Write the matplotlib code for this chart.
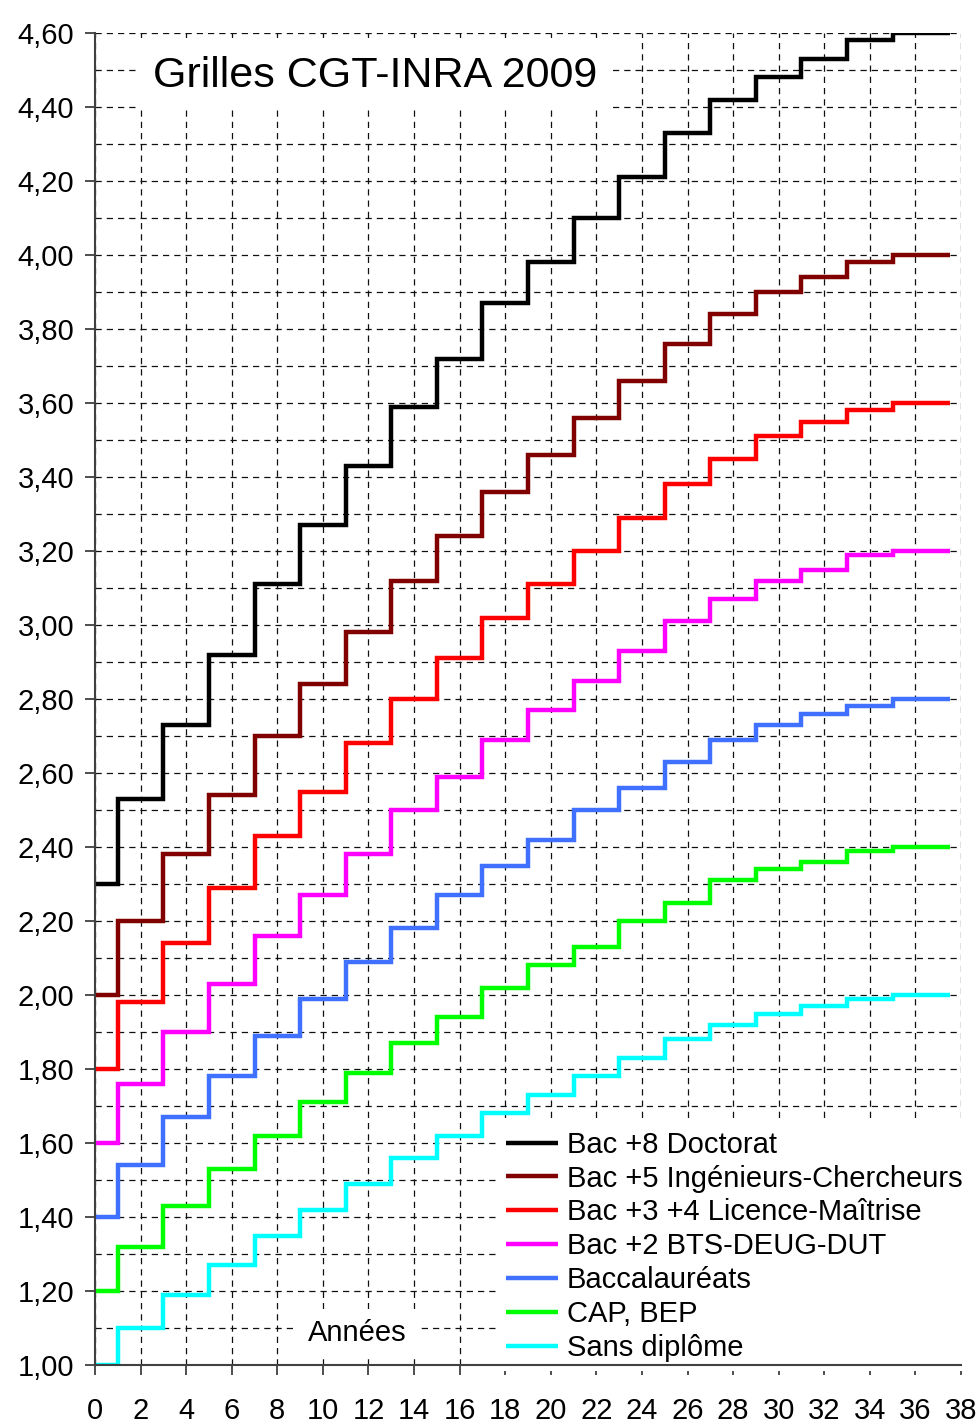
import matplotlib
matplotlib.use("Agg")
import matplotlib.pyplot as plt
from matplotlib.ticker import MultipleLocator, FuncFormatter

# step positions (years) and last x of the curves
annees = [0, 1, 3, 5, 7, 9, 11, 13, 15, 17, 19, 21, 23, 25, 27, 29, 31, 33, 35]
fin = 37.5

doctorat = [2.30, 2.53, 2.73, 2.92, 3.11, 3.27, 3.43, 3.59, 3.72, 3.87,
            3.98, 4.10, 4.21, 4.33, 4.42, 4.48, 4.53, 4.58, 4.60]
ingenieurs = [2.00, 2.20, 2.38, 2.54, 2.70, 2.84, 2.98, 3.12, 3.24, 3.36,
              3.46, 3.56, 3.66, 3.76, 3.84, 3.90, 3.94, 3.98, 4.00]
licence = [1.80, 1.98, 2.14, 2.29, 2.43, 2.55, 2.68, 2.80, 2.91, 3.02,
           3.11, 3.20, 3.29, 3.38, 3.45, 3.51, 3.55, 3.58, 3.60]
bts = [1.60, 1.76, 1.90, 2.03, 2.16, 2.27, 2.38, 2.50, 2.59, 2.69,
       2.77, 2.85, 2.93, 3.01, 3.07, 3.12, 3.15, 3.19, 3.20]
bac = [1.40, 1.54, 1.67, 1.78, 1.89, 1.99, 2.09, 2.18, 2.27, 2.35,
       2.42, 2.50, 2.56, 2.63, 2.69, 2.73, 2.76, 2.78, 2.80]
cap = [1.20, 1.32, 1.43, 1.53, 1.62, 1.71, 1.79, 1.87, 1.94, 2.02,
       2.08, 2.13, 2.20, 2.25, 2.31, 2.34, 2.36, 2.39, 2.40]
sans = [1.00, 1.10, 1.19, 1.27, 1.35, 1.42, 1.49, 1.56, 1.62, 1.68,
        1.73, 1.78, 1.83, 1.88, 1.92, 1.95, 1.97, 1.99, 2.00]

series = [doctorat, ingenieurs, licence, bts, bac, cap, sans]
labels = ["Bac +8 Doctorat", "Bac +5 Ingénieurs-Chercheurs",
          "Bac +3 +4 Licence-Maîtrise", "Bac +2 BTS-DEUG-DUT",
          "Baccalauréats", "CAP, BEP", "Sans diplôme"]
colors = ["#000000", "#800000", "#ff0000", "#ff00ff", "#4070ff", "#00ff00", "#00ffff"]

plt.rcParams['font.family'] = ['Liberation Sans', 'DejaVu Sans']

fig = plt.figure(figsize=(9.77, 14.24), dpi=100)
ax = fig.add_axes([95 / 977, 1 - 1365 / 1424, 866 / 977, 1332 / 1424])

xs = annees + [fin]
for vals, lab, col in zip(series, labels, colors):
    ax.step(xs, vals + [vals[-1]], where="post", color=col, lw=3.2, label=lab,
            solid_joinstyle="miter", solid_capstyle="butt", zorder=3)

ax.set_xlim(0, 38)
ax.set_ylim(1.0, 4.6)
ax.xaxis.set_major_locator(MultipleLocator(2))
ax.yaxis.set_major_locator(MultipleLocator(0.2))
ax.yaxis.set_minor_locator(MultipleLocator(0.1))
ax.yaxis.set_major_formatter(FuncFormatter(lambda v, p: f"{v:.2f}".replace(".", ",")))

ax.grid(True, which="major", axis="x", color="#101010", lw=0.9, dashes=(5, 4))
ax.grid(True, which="both", axis="y", color="#101010", lw=0.9, dashes=(5, 4))
ax.set_axisbelow(True)

for s in ["top", "right"]:
    ax.spines[s].set_visible(False)
for s in ["left", "bottom"]:
    ax.spines[s].set_color("#404040")
    ax.spines[s].set_linewidth(1.5)
    ax.spines[s].set_zorder(8)

ax.tick_params(which="major", length=7, width=1.3, color="#404040", labelsize=21)
ax.tick_params(axis="y", which="major", pad=8)
ax.tick_params(axis="x", which="major", pad=16)
ax.tick_params(which="minor", length=0)

ax.text(12.3, 4.484, "Grilles CGT-INRA 2009", fontsize=31, ha="center", va="center",
        bbox=dict(boxstyle="square,pad=0.3", fc="white", ec="none"), zorder=5)
ax.text(11.5, 1.0865, "Années", fontsize=21, ha="center", va="center",
        bbox=dict(boxstyle="square,pad=0.35", fc="white", ec="none"), zorder=5)

leg = ax.legend(loc="upper left", bbox_to_anchor=(497 / 977, 1 - 1122 / 1424),
                bbox_transform=fig.transFigure, fontsize=21, frameon=True,
                facecolor="white", edgecolor="none", framealpha=1, fancybox=False,
                borderpad=0.3, borderaxespad=0, handlelength=1.8, handletextpad=0.3,
                labelspacing=0.2)
leg.set_zorder(6)

fig.savefig("out.png", dpi=100)
